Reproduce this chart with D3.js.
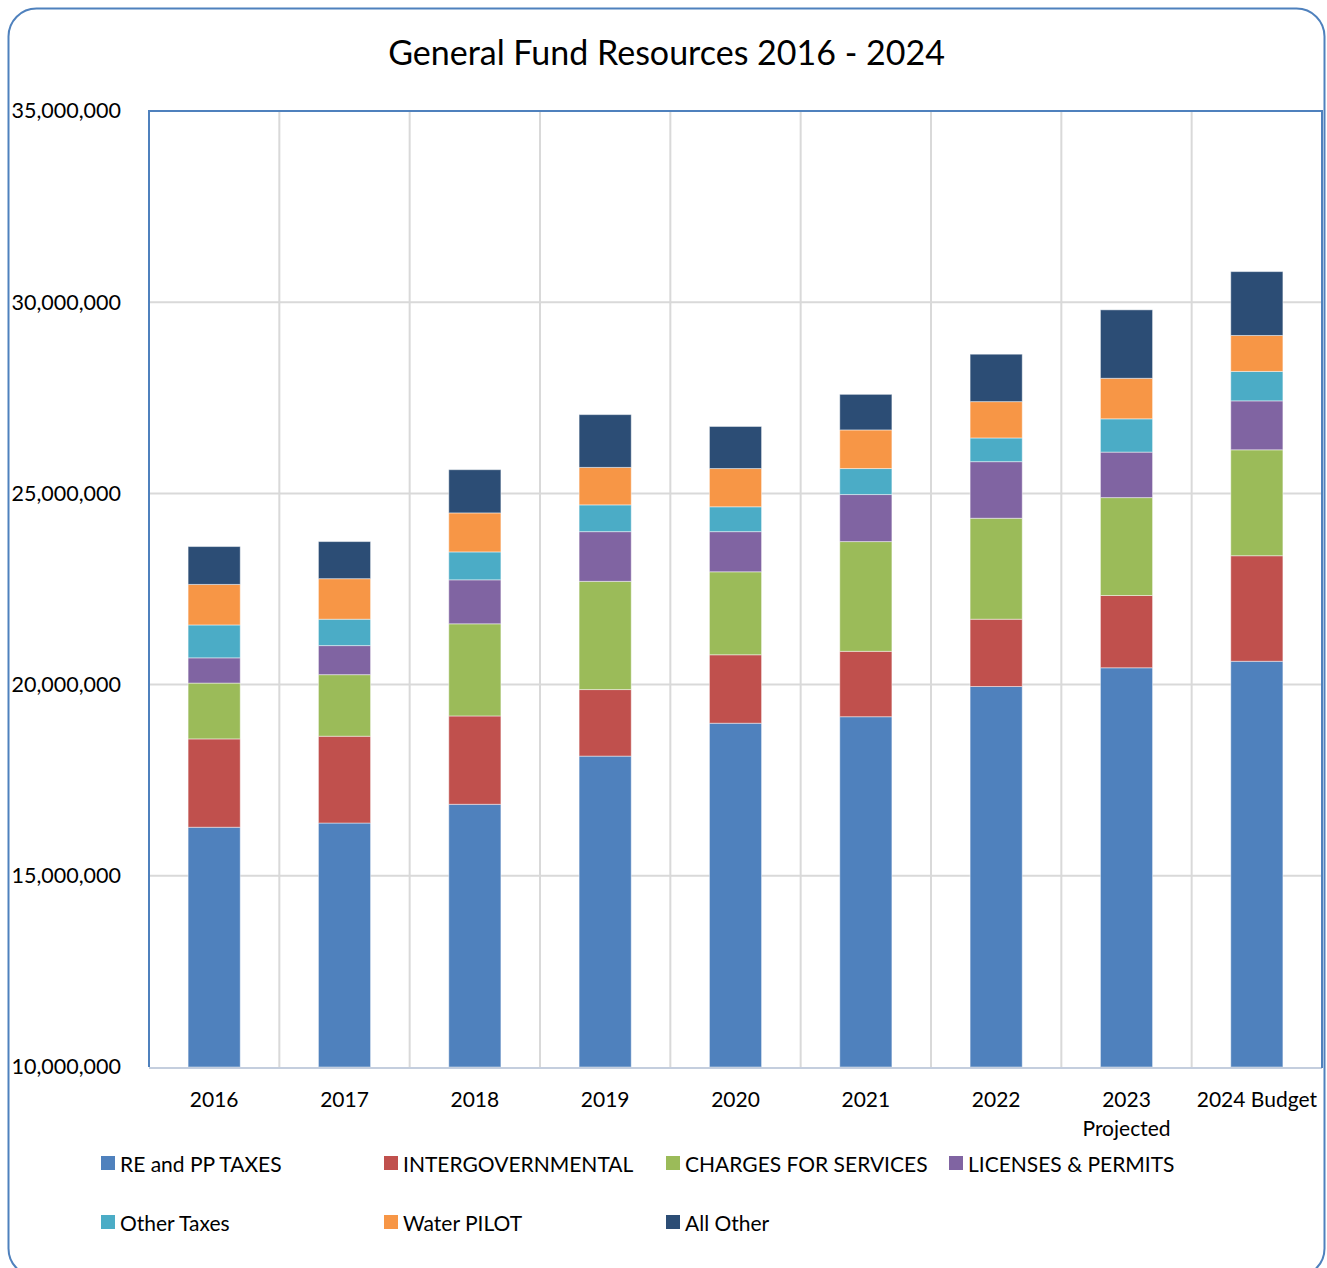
<!DOCTYPE html>
<html>
<head>
<meta charset="utf-8">
<script src="https://cdn.jsdelivr.net/npm/d3@7"></script>
<style>
  html, body { margin: 0; padding: 0; background: #ffffff; }
  svg { display: block; }
  text { font-family: Lato, "Noto Sans", sans-serif; fill: #000; }
</style>
</head>
<body>
<svg id="chart" width="1327" height="1268"></svg>
<script>
// Fiscal years shown on the x axis
const categories = ["2016", "2017", "2018", "2019", "2020", "2021", "2022", "2023 Projected", "2024 Budget"];

// Revenue sources, bottom of the stack first
const seriesNames = ["RE and PP TAXES", "INTERGOVERNMENTAL", "CHARGES FOR SERVICES", "LICENSES & PERMITS", "Other Taxes", "Water PILOT", "All Other"];

// Dollar amounts per source and year
const reTaxes          = [16270000, 16380000, 16870000, 18130000, 18990000, 19160000, 19950000, 20440000, 20610000];
const intergovernmental = [2310000, 2270000, 2310000, 1740000, 1790000, 1710000, 1760000, 1890000, 2760000];
const chargesServices  = [1460000, 1610000, 2410000, 2830000, 2170000, 2870000, 2640000, 2560000, 2770000];
const licensesPermits  = [660000, 760000, 1150000, 1300000, 1050000, 1230000, 1480000, 1190000, 1280000];
const otherTaxes       = [860000, 690000, 730000, 700000, 650000, 680000, 620000, 870000, 770000];
const waterPilot       = [1060000, 1060000, 1020000, 980000, 1000000, 1010000, 950000, 1060000, 940000];
const allOther         = [990000, 970000, 1130000, 1380000, 1100000, 930000, 1240000, 1790000, 1670000];

// Value axis ticks
const yTicks = [10000000, 15000000, 20000000, 25000000, 30000000, 35000000];

const colors = ["#4f81bd", "#c0504d", "#9bbb59", "#8064a2", "#4bacc6", "#f79646", "#2c4d75"];

const seriesValues = [reTaxes, intergovernmental, chargesServices, licensesPermits, otherTaxes, waterPilot, allOther];
const rows = categories.map((c, i) => {
  const r = { category: c };
  seriesNames.forEach((s, k) => { r[s] = seriesValues[k][i]; });
  return r;
});

const svg = d3.select("#chart");
const plot = { left: 149, right: 1322, top: 111, bottom: 1067 };

// Outer rounded frame
svg.append("rect")
  .attr("x", 8.5).attr("y", 8.5)
  .attr("width", 1316).attr("height", 1268)
  .attr("rx", 28).attr("ry", 28)
  .attr("fill", "#fff")
  .attr("stroke", "#4f81bd").attr("stroke-width", 2);

// Title
svg.append("text")
  .attr("x", 666.5).attr("y", 51)
  .attr("text-anchor", "middle").attr("dominant-baseline", "central")
  .style("font-size", "34px")
  .text("General Fund Resources 2016 - 2024");

const x = d3.scaleBand().domain(categories).range([plot.left, plot.right])
  .paddingInner(0.6).paddingOuter(0.3);
const xCell = d3.scaleBand().domain(categories).range([plot.left, plot.right]);
const y = d3.scaleLinear().domain([10000000, 35000000]).range([plot.bottom, plot.top]).clamp(true);

// Gridlines
const grid = svg.append("g");
grid.selectAll("line.h").data(yTicks.slice(1, -1)).join("line")
  .attr("x1", plot.left).attr("x2", plot.right)
  .attr("y1", d => y(d)).attr("y2", d => y(d))
  .attr("stroke", "#d9d9d9").attr("stroke-width", 2);
grid.selectAll("line.v").data(categories.slice(1)).join("line")
  .attr("x1", d => xCell(d)).attr("x2", d => xCell(d))
  .attr("y1", plot.top).attr("y2", plot.bottom)
  .attr("stroke", "#d9d9d9").attr("stroke-width", 2);

// Stacked bars
const stack = d3.stack().keys(seriesNames)(rows);
svg.append("g").selectAll("g").data(stack).join("g")
  .attr("fill", (d, i) => colors[i])
  .selectAll("rect").data(d => d).join("rect")
  .attr("x", d => x(d.data.category))
  .attr("width", x.bandwidth())
  .attr("y", d => y(d[1]))
  .attr("height", d => y(d[0]) - y(d[1]))
  .attr("stroke", "rgba(255,255,255,0.45)").attr("stroke-width", 1);

// Plot area border and axes
svg.append("line")
  .attr("x1", plot.left).attr("x2", plot.right)
  .attr("y1", plot.bottom + 1).attr("y2", plot.bottom + 1)
  .attr("stroke", "#c4cede").attr("stroke-width", 2);
svg.append("path")
  .attr("d", `M${plot.left},${plot.bottom}V${plot.top}H${plot.right}V${plot.bottom + 1}`)
  .attr("fill", "none").attr("stroke", "#4f81bd").attr("stroke-width", 2);

// Y axis labels
const yAxis = d3.axisLeft(y).tickValues(yTicks).tickSize(0).tickPadding(0)
  .tickFormat(d3.format(","));
svg.append("g")
  .attr("transform", `translate(121,0)`)
  .call(yAxis)
  .call(g => g.select(".domain").remove())
  .call(g => g.selectAll("text").style("font-size", "21.5px").attr("fill", "#000")
    .style("font-family", "Lato, 'Noto Sans', sans-serif"));

// X axis labels (wrapped on spaces for "2023 Projected")
const xAxisG = svg.append("g");
categories.forEach(c => {
  const cx = x(c) + x.bandwidth() / 2;
  const lines = c === "2023 Projected" ? ["2023", "Projected"] : [c];
  lines.forEach((t, j) => {
    xAxisG.append("text")
      .attr("x", cx).attr("y", 1098 + j * 29)
      .attr("text-anchor", "middle").attr("dominant-baseline", "central")
      .style("font-size", "21px")
      .text(t);
  });
});

// Legend
const legendCols = [101, 384, 666, 949];
const legendRows = [1163, 1222];
const legend = svg.append("g");
seriesNames.forEach((s, i) => {
  const lx = legendCols[i % 4];
  const ly = legendRows[Math.floor(i / 4)];
  legend.append("rect")
    .attr("x", lx).attr("y", ly - 7)
    .attr("width", 14).attr("height", 14)
    .attr("fill", colors[i]);
  legend.append("text")
    .attr("x", lx + 19).attr("y", ly)
    .attr("dominant-baseline", "central")
    .style("font-size", "21px")
    .text(s);
});
</script>
</body>
</html>
